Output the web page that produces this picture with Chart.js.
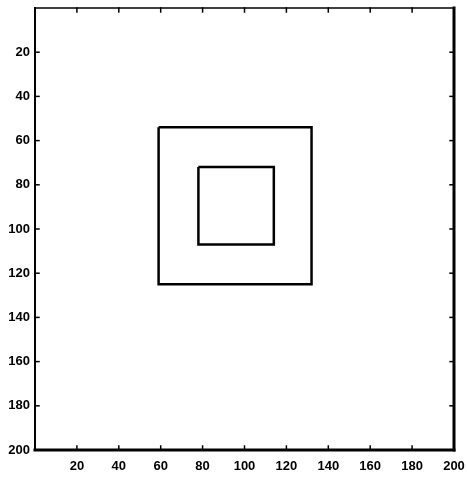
<!DOCTYPE html>
<html>
<head>
<meta charset="utf-8">
<script src="https://cdn.jsdelivr.net/npm/chart.js@4/dist/chart.umd.min.js"></script>
<style>
  body { margin: 0; background: #fff; }
  #wrap { width: 467px; height: 480px; }
</style>
</head>
<body>
<div id="wrap"><canvas id="imgChart" width="467" height="480"></canvas></div>
<script>
// square outlines (x = column, y = row, row 0 at top)
var outerX = [59, 132, 132, 59, 59];
var outerY = [54, 54, 125, 125, 54];
var innerX = [78, 114, 114, 78, 78];
var innerY = [72, 72, 107, 107, 72];

var xTicks = [20, 40, 60, 80, 100, 120, 140, 160, 180, 200];
var yTicks = [20, 40, 60, 80, 100, 120, 140, 160, 180, 200];

function toPoints(xs, ys) {
    return xs.map(function (x, i) { return { x: x, y: ys[i] }; });
}

// box with inward ticks like the old matlab axes
var boxPlugin = {
    id: 'box',
    afterDraw: function (chart) {
        var ctx = chart.ctx;
        var a = chart.chartArea;
        var xs = chart.scales.x, ys = chart.scales.y;
        ctx.save();
        ctx.strokeStyle = '#000';
        ctx.lineCap = 'square';

        ctx.lineWidth = 1.5;
        xTicks.forEach(function (v) {
            var px = xs.getPixelForValue(v);
            ctx.beginPath(); ctx.moveTo(px, a.bottom); ctx.lineTo(px, a.bottom - 4); ctx.stroke();
            ctx.beginPath(); ctx.moveTo(px, a.top); ctx.lineTo(px, a.top + 4); ctx.stroke();
        });
        yTicks.forEach(function (v) {
            var py = ys.getPixelForValue(v);
            ctx.beginPath(); ctx.moveTo(a.left, py); ctx.lineTo(a.left + 4, py); ctx.stroke();
            ctx.beginPath(); ctx.moveTo(a.right, py); ctx.lineTo(a.right - 4, py); ctx.stroke();
        });

        ctx.lineWidth = 1.5;
        ctx.beginPath(); ctx.moveTo(a.left, a.top); ctx.lineTo(a.right, a.top); ctx.stroke();
        ctx.lineWidth = 2;
        ctx.beginPath(); ctx.moveTo(a.left, a.top); ctx.lineTo(a.left, a.bottom); ctx.stroke();
        ctx.lineWidth = 3;
        ctx.beginPath(); ctx.moveTo(a.left, a.bottom); ctx.lineTo(a.right, a.bottom); ctx.stroke();
        ctx.beginPath(); ctx.moveTo(a.right, a.top); ctx.lineTo(a.right, a.bottom); ctx.stroke();
        ctx.restore();
    }
};

var tickFont = { family: 'Liberation Sans, Arial, sans-serif', size: 13, weight: 'bold' };

new Chart(document.getElementById('imgChart').getContext('2d'), {
    type: 'scatter',
    data: {
        datasets: [{
            data: toPoints(outerX, outerY),
            showLine: true,
            borderColor: '#000',
            borderWidth: 2.5,
            pointRadius: 0,
            fill: false
        }, {
            data: toPoints(innerX, innerY),
            showLine: true,
            borderColor: '#000',
            borderWidth: 2.5,
            pointRadius: 0,
            fill: false
        }]
    },
    options: {
        responsive: false,
        animation: false,
        layout: { padding: { top: 8, right: 13, left: 0, bottom: 0 } },
        plugins: { legend: { display: false }, tooltip: { enabled: false } },
        scales: {
            x: {
                type: 'linear', min: 0, max: 200,
                afterFit: function (s) { s.height = 30; s.paddingLeft = 0; s.paddingRight = 0; },
                grid: { display: false, drawTicks: false },
                border: { display: false },
                ticks: {
                    stepSize: 20, padding: 9, color: '#000', font: tickFont,
                    maxRotation: 0, autoSkip: false,
                    callback: function (v) { return v === 0 ? '' : v; }
                }
            },
            y: {
                type: 'linear', min: 0, max: 200, reverse: true,
                afterFit: function (s) { s.width = 35; s.paddingTop = 0; s.paddingBottom = 0; },
                grid: { display: false, drawTicks: false },
                border: { display: false },
                ticks: {
                    stepSize: 20, padding: 5, color: '#000', font: tickFont,
                    autoSkip: false,
                    callback: function (v) { return v === 0 ? '' : v; }
                }
            }
        }
    },
    plugins: [boxPlugin]
});
</script>
</body>
</html>
